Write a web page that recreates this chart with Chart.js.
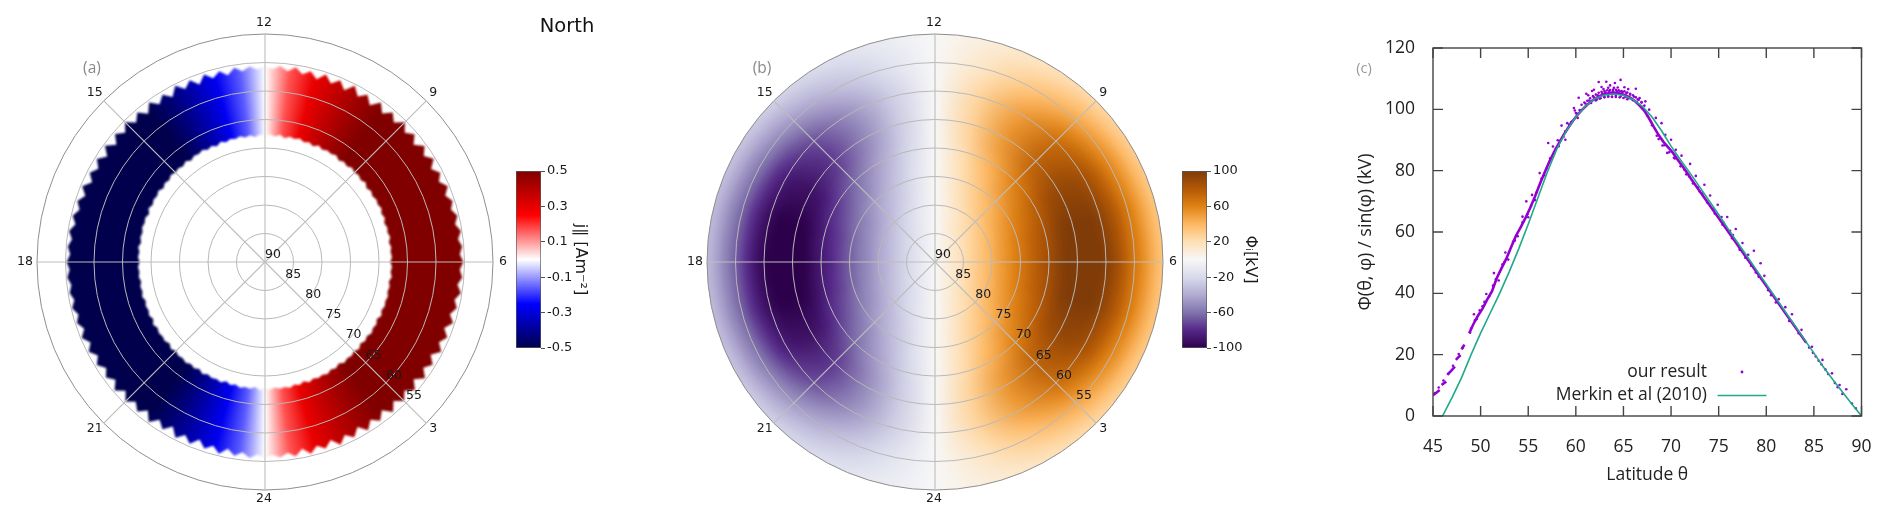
<!DOCTYPE html>
<html><head><meta charset="utf-8">
<style>
html,body{margin:0;padding:0;background:#fff;width:1892px;height:524px;overflow:hidden}
canvas{position:absolute;filter:blur(0.45px)}
#paHeat{filter:blur(1.2px)}
#pbHeat{filter:blur(2.6px);clip-path:circle(228px at 275px 262px)}
</style>
<script src="https://cdn.jsdelivr.net/npm/chart.js@4"></script>
</head><body>
<canvas id="paHeat" width="640" height="524" style="left:0;top:0;width:640px;height:524px"></canvas>
<canvas id="pa" width="640" height="524" style="left:0;top:0;width:640px;height:524px"></canvas>
<canvas id="ba" width="124" height="200" style="left:516px;top:160px;width:124px;height:200px"></canvas>
<canvas id="pbHeat" width="620" height="524" style="left:660px;top:0;width:620px;height:524px"></canvas>
<canvas id="pb" width="620" height="524" style="left:660px;top:0;width:620px;height:524px"></canvas>
<canvas id="bb" width="124" height="200" style="left:1182px;top:160px;width:124px;height:200px"></canvas>
<canvas id="pc" width="552" height="524" style="left:1340px;top:0;width:552px;height:524px"></canvas>
<script>
// ---------- shared polar axis labels ----------
const mltLabels = ['12','9','6','3','24','21','18','15'];
const latitudeTicks = [90,85,80,75,70,65,60,55];

// ---------- panel (a): field aligned current ----------
// band edges in degrees latitude, clockwise from MLT 12, 2.25 degree sectors
const bandOuterLat = [
55.6,56.1,55.5,56.3,55.4,56.4,55.6,56.7,55.4,56.6,55.5,56.8,55.3,56.7,55.6,56.9,55.4,56.8,55.5,56.7,
55.3,56.6,55.5,56.8,55.4,56.5,55.3,56.6,55.5,56.4,55.3,56.3,55.4,56.1,55.3,56.0,55.2,55.9,55.3,55.8,
55.2,55.8,55.3,56.0,55.2,56.1,55.4,56.3,55.3,56.5,55.4,56.4,55.3,56.7,55.5,56.6,55.3,56.8,55.4,56.7,
55.5,56.8,55.4,56.9,55.6,56.7,55.4,56.8,55.5,56.6,55.3,56.7,55.6,56.5,55.4,56.6,55.5,56.3,55.6,56.1,
55.6,56.2,55.5,56.4,55.6,56.6,55.4,56.5,55.6,56.8,55.5,56.6,55.4,56.9,55.6,56.7,55.3,56.8,55.5,56.6,
55.4,56.7,55.3,56.6,55.5,56.5,55.4,56.4,55.3,56.3,55.2,56.2,55.3,56.0,55.2,55.9,55.3,55.8,55.2,55.7,
55.2,55.8,55.3,55.9,55.2,56.1,55.3,56.2,55.4,56.4,55.3,56.6,55.5,56.5,55.4,56.7,55.3,56.8,55.4,56.6,
55.3,56.7,55.5,56.9,55.4,56.7,55.6,56.8,55.3,56.6,55.5,56.8,55.4,56.5,55.6,56.6,55.5,56.3,55.6,56.2];
const bandInnerLat = [
67.9,67.6,67.9,67.5,68.0,67.6,67.8,67.5,67.9,67.6,68.0,67.5,67.9,67.6,67.8,67.5,68.0,67.6,67.9,67.5,
67.8,67.6,67.9,67.5,68.0,67.6,67.9,67.6,67.8,67.5,67.9,67.6,68.0,67.7,67.9,67.6,68.0,67.7,67.9,67.7,
68.0,67.7,67.9,67.6,68.0,67.7,67.9,67.6,67.8,67.6,67.9,67.5,68.0,67.6,67.8,67.5,67.9,67.6,68.0,67.5,
67.9,67.6,67.8,67.5,68.0,67.6,67.9,67.5,67.8,67.6,67.9,67.5,68.0,67.6,67.9,67.5,67.8,67.6,67.9,67.6,
67.9,67.5,68.0,67.6,67.8,67.5,67.9,67.6,68.0,67.5,67.8,67.6,67.9,67.5,68.0,67.6,67.9,67.5,67.8,67.6,
67.9,67.5,68.0,67.6,67.8,67.6,67.9,67.5,68.0,67.6,67.9,67.7,68.0,67.6,67.9,67.7,68.0,67.7,67.9,67.7,
68.0,67.7,67.9,67.6,68.0,67.7,67.9,67.6,67.8,67.6,68.0,67.5,67.9,67.6,67.8,67.5,68.0,67.6,67.9,67.5,
67.8,67.6,67.9,67.5,68.0,67.6,67.8,67.5,67.9,67.6,68.0,67.5,67.9,67.6,67.8,67.5,67.9,67.6,68.0,67.6];
// current density in 7.5 degree sectors, clockwise from MLT 12
const currentBySector = [
0,0.17,0.29,0.37,0.44,0.5,0.56,0.62,0.68,0.72,0.74,0.76,0.78,0.76,0.74,0.72,0.68,0.62,0.56,0.5,0.44,0.37,0.29,0.17,
0,-0.16,-0.27,-0.36,-0.44,-0.5,-0.56,-0.62,-0.68,-0.72,-0.74,-0.76,-0.78,-0.76,-0.74,-0.72,-0.68,-0.62,-0.56,-0.5,-0.44,-0.36,-0.27,-0.16];
const currentColors = ['#00004c','#0000ff','#ffffff','#ff0000','#800000'];
const currentTicks = {min:-0.5,max:0.5,step:0.2};

// ---------- panel (b): potential ----------
// outer edge latitude of each ring, from the pole outwards
const ringEdgeLat = [88.75,87.5,86.25,85,83.75,82.5,81.25,80,78.75,77.5,76.25,75,73.75,72.5,71.25,70,68.75,67.5,66.25,65,63.75,62.5,61.25,60,58.75,57.5,56.25,55,53.75,52.5,51.25,50,48];
// kV per ring, in 1 hour sectors clockwise from MLT 12
const potentialRows = [
[0,1,1,2,2,2,3,2,2,2,1,1,0,-1,-1,-2,-2,-2,-3,-2,-2,-2,-1,-1],
[0,2,4,5,7,7,8,7,7,5,4,2,0,-2,-4,-5,-7,-7,-8,-7,-7,-5,-4,-2],
[0,3,7,9,11,13,13,13,11,9,7,3,0,-3,-7,-9,-11,-13,-13,-13,-11,-9,-7,-3],
[0,5,9,13,16,17,18,17,16,13,9,5,0,-5,-9,-13,-16,-17,-18,-17,-16,-13,-9,-5],
[0,6,12,17,20,23,24,23,20,17,12,6,0,-6,-12,-17,-20,-23,-24,-23,-20,-17,-12,-6],
[0,8,15,21,25,28,29,28,25,21,15,8,0,-8,-15,-21,-25,-28,-29,-28,-25,-21,-15,-8],
[0,9,17,24,30,33,35,33,30,24,17,9,0,-9,-17,-24,-30,-33,-35,-33,-30,-24,-17,-9],
[0,10,20,28,35,39,40,39,35,28,20,10,0,-10,-20,-28,-35,-39,-40,-39,-35,-28,-20,-10],
[0,12,23,32,40,44,46,44,40,32,23,12,0,-12,-23,-32,-40,-44,-46,-44,-40,-32,-23,-12],
[0,13,26,37,45,50,52,50,45,37,26,13,0,-13,-26,-37,-45,-50,-52,-50,-45,-37,-26,-13],
[0,15,29,40,50,55,57,55,50,40,29,15,0,-15,-29,-40,-50,-55,-57,-55,-50,-40,-29,-15],
[0,16,31,44,54,61,63,61,54,44,31,16,0,-16,-31,-44,-54,-61,-63,-61,-54,-44,-31,-16],
[0,18,34,48,59,66,68,66,59,48,34,18,0,-18,-34,-48,-59,-66,-68,-66,-59,-48,-34,-18],
[0,19,37,53,64,72,74,72,64,53,37,19,0,-19,-37,-53,-64,-72,-74,-72,-64,-53,-37,-19],
[0,21,40,56,69,77,80,77,69,56,40,21,0,-21,-40,-56,-69,-77,-80,-77,-69,-56,-40,-21],
[0,22,43,60,74,82,85,82,74,60,43,22,0,-22,-43,-60,-74,-82,-85,-82,-74,-60,-43,-22],
[0,23,45,64,78,87,90,87,78,64,45,23,0,-23,-45,-64,-78,-87,-90,-87,-78,-64,-45,-23],
[0,25,48,68,84,93,96,93,84,68,48,25,0,-25,-48,-68,-84,-93,-96,-93,-84,-68,-48,-25],
[0,26,51,72,88,98,101,98,88,72,51,26,0,-26,-51,-72,-88,-98,-101,-98,-88,-72,-51,-26],
[0,27,52,74,90,101,104,101,90,74,52,27,0,-27,-52,-74,-90,-101,-104,-101,-90,-74,-52,-27],
[0,27,53,75,92,102,105,102,92,75,53,27,0,-27,-53,-75,-92,-102,-105,-102,-92,-75,-53,-27],
[0,27,53,75,91,102,105,102,91,75,53,27,0,-27,-53,-75,-91,-102,-105,-102,-91,-75,-53,-27],
[0,27,52,73,90,100,103,100,90,73,52,27,0,-27,-52,-73,-90,-100,-103,-100,-90,-73,-52,-27],
[0,26,50,71,87,97,100,97,87,71,50,26,0,-26,-50,-71,-87,-97,-100,-97,-87,-71,-50,-26],
[0,25,48,67,83,92,95,92,83,67,48,25,0,-25,-48,-67,-83,-92,-95,-92,-83,-67,-48,-25],
[0,23,44,62,77,85,88,85,77,62,44,23,0,-23,-44,-62,-77,-85,-88,-85,-77,-62,-44,-23],
[0,21,40,56,69,77,79,77,69,56,40,21,0,-21,-40,-56,-69,-77,-79,-77,-69,-56,-40,-21],
[0,18,35,50,61,68,70,68,61,50,35,18,0,-18,-35,-50,-61,-68,-70,-68,-61,-50,-35,-18],
[0,16,31,44,54,60,62,60,54,44,31,16,0,-16,-31,-44,-54,-60,-62,-60,-54,-44,-31,-16],
[0,14,27,38,47,52,54,52,47,38,27,14,0,-14,-27,-38,-47,-52,-54,-52,-47,-38,-27,-14],
[0,12,23,32,39,44,45,44,39,32,23,12,0,-12,-23,-32,-39,-44,-45,-44,-39,-32,-23,-12],
[0,10,19,26,32,36,37,36,32,26,19,10,0,-10,-19,-26,-32,-36,-37,-36,-32,-26,-19,-10],
[0,9,17,24,29,32,33,32,29,24,17,9,0,-9,-17,-24,-29,-32,-33,-32,-29,-24,-17,-9]];
const potentialColors = ['#2d004b','#542788','#8073ac','#b2abd2','#d8daeb','#f7f7f7','#fee0b6','#fdb863','#e08214','#b35806','#7f3b08'];
const potentialTicks = {min:-100,max:100,step:40};

// ---------- panel (c) ----------
const merkinLat = [46,47,48,49,50,51,52,53,54,55,56,57,58,59,60,61,62,63,64,65,66,67,68,69,70,71,72,73,74,75,76,77,78,79,80,81,82,83,84,85,86,87,88,89,90];
const merkinPhi = [0,6,12.5,20,27,33.5,40,47,54.5,62.5,71,79.5,87,93,97.5,101,103.5,104.7,105,104.6,103.2,101,97.5,93,88,83.5,79.2,74.7,70.2,65.7,61,56.5,52,47.5,43,38.5,34,29.5,25,20.5,16,11.8,7.8,3.8,0];
// dense trace of the result; null marks the visible breaks
const traceLat = [45,45.35,45.7,45.8,45.9,46.15,46.4,46.45,46.5,46.9,47.3,47.35,47.4,47.65,47.9,47.95,48.0,48.15,48.3,48.6,48.8,49.25,49.7,50.2,50.7,51.2,51.7,52.2,52.7,53.2,53.7,54.2,54.7,55.2,55.7,56.2,56.7,57.2,57.7,58.2,58.7,59.2,59.7,60.2,60.7,61.2,61.7,62.2,62.7,63.2,63.7,64.2,64.7,65.2,65.7,66.2,66.7,67.2,67.7,68.2,68.7,69.2,69.7,70.2,70.7,71.2,71.7,72.2,72.7,73.2,73.7,74.2,74.7,75.2,75.7,76.2,76.7,77.2,77.7,78.2,78.7,79.2,79.7,80.2,80.7,81.2,81.7,82.2,82.7,83.2,83.7,84.2];
const tracePhi = [6.8,7.6,8.5,null,10.1,10.7,11.2,null,13.4,14.7,16.1,null,18.3,19.1,19.9,null,21.7,22.5,23.3,null,27,30,32.6,35,38,40.7,45,48.2,51.3,55,58.7,61.5,64.5,67.8,71.5,75.5,79.2,82.8,86,88.8,91.6,94,96.3,98.3,100,101.5,102.8,103.8,104.6,105.1,105.4,105.4,105.1,104.6,103.8,102.7,101.2,99.5,97,94.2,91.6,89.4,87.6,85.8,83.6,81.4,79.2,76.9,74.7,72.5,70.3,68.1,65.9,63.7,61.5,59.3,57.1,54.8,52.6,50.4,48.2,46,43.8,41.6,39.4,37.1,34.9,32.7,30.5,28.3,26.1,23.9];
// individual points that stand off the trace
const resultLat = [
62.4,63.2,64.1,64.7,61.9,62.7,63.6,65.1,65.5,66.3,61.1,60.3,66.7,67.3,67.7,59.8,60,59.1,58.5,58.9,58.1,58.9,57.1,57.6,56.2,55.4,54.8,55,54.4,52.6,51.4,50.6,49.3,
60.6,60.9,61.2,61.5,61.8,62.1,62.4,62.7,63,63.3,63.6,63.9,64.2,64.5,64.8,65.1,65.4,65.7,66,66.3,66.6,66.9,67.2,
62.2,62.6,63,63.4,63.8,64.2,64.6,65,65.4,61.7,62.9,63.4,64,64.4,61.3,60.2,60.5,59.5,59.9,
45.2,45.6,46.1,46.6,47.1,47.7,48.1,49,49.4,49.9,50.4,50.9,51.3,51.9,52.3,52.9,53.4,53.9,54.4,55.3,55.9,56.4,56.9,57.3,57.9,58.4,
69,68.4,69.4,70,70.5,71.1,72,72.6,73.5,74.1,74.9,75.9,75.3,76.8,76.2,77.5,78.7,78.1,79.4,79.8,81.3,82,82.7,83.7,84.8,85.9,86.9,87.7,88.4,89,
68.7,69.1,69.6,70.3,71.4,71.9,72.8,73.3,74.5,75.5,76.5,77.8,78.9,80.5,84.5,84.9,85.2,85.5,85.8,86.2,86.5,87.2,87.5,88,89.4,
61,61.4,61.9,62.3,62.8,63.1,63.5,63.9,64.3,64.6,64.9,65.3,65.7,66.1,66.5,66.9,61.6,62.1,62.5,63,63.4,63.8,64.2,64.7,65.2,65.6,66,66.4,
59.3,59.6,60.1,60.4,58.7,58.2,56.7,55.7,54.9,53.6,52.5,51.6,50.2,49.6,48.9,
67.5,68,68.5,69.3,69.8,70.4,71,71.6,72.3,73,73.8,74.6,75.4,76.4,77.2,78.4,79.2,80.2,81,82.4,83.4];
const resultPhi = [
108.9,109,108.6,109.6,106.4,107.3,107.8,107.2,106.6,106.7,105.1,103.8,103.7,102.6,99.9,100.4,98.8,95.5,94.7,92.8,89.9,90.1,89,87.9,79.2,72.1,70,64.8,65,53.3,46.6,39.8,33.2,
101.5,102.2,102.8,103.6,104.3,104.8,105.4,105.7,106,106.2,106.3,106.4,106.4,106.2,106,105.9,105.5,105.1,104.6,103.9,103.1,102.2,101.2,
103.2,103.6,104,104.1,104,104,103.9,103.7,103.3,106,106.6,107,107,107.1,104.6,97.2,99.5,95.8,99.6,
7.5,9.3,11.6,13.8,16.4,20.2,22.2,28.5,31.2,34.5,37.2,39,42.5,44.2,49.5,51,56.8,58.6,63.2,68.5,73,77.4,80.6,84,87.2,89.8,
95.5,97.2,91.7,90.1,86.8,84.9,82.2,78.3,75.4,71.9,68.9,64.9,64.9,61,60.4,56.4,53.9,52.6,49.8,45.7,38.1,35.5,33.2,28.1,22.6,18.3,13.9,10.1,8.7,4.1,
90.3,88.2,85.8,84.2,80.3,78.1,74.6,72.5,67.4,63.2,59,51.6,46.8,39.4,22.3,20.6,19.4,18,16.8,15.2,13.7,10.8,9.4,7.2,2.5,
101.9,102.9,103.9,104.6,105.2,105.6,106,105.9,106,105.8,105.6,105.3,104.8,104.1,103.3,102.4,102.1,102.9,103.5,103.9,104.3,104.2,104.4,104.2,104,103.6,103,102.4,
95,96,98.6,99.8,91,88,78.5,70.4,65.8,57.2,50.2,44.6,35.8,31.6,27.2,
98,94.8,91.4,88.3,86,84,81.4,78.8,75.8,73.2,69.6,66,62.4,58,54.2,49,45.4,41,37,31,27];
const xTickValues = [45,50,55,60,65,70,75,80,85,90];
const yTickValues = [0,20,40,60,80,100,120];

// ---------- helpers ----------
const SANS = '"DejaVu Sans"';
const OPEN = '"Open Sans"';
const SPOKE = 20; // sectors between labelled spokes
const sectorLabels = bandOuterLat.map((_, i) => String(i));
function hex(c){return [1,3,5].map(i=>parseInt(c.substr(i,2),16));}
function colorAt(stops,min,max,v){
  const t=Math.max(0,Math.min(1,(v-min)/(max-min)))*(stops.length-1);
  const i=Math.min(stops.length-2,Math.floor(t)),f=t-i;
  const a=hex(stops[i]),b=hex(stops[i+1]);
  return 'rgb('+a.map((x,k)=>Math.round(x+(b[k]-x)*f)).join(',')+')';
}
function conic(chart,values,stops,ticks){
  const s=chart.scales.r;
  if(!s||s.xCenter===undefined) return 'rgba(0,0,0,0)';
  const g=chart.ctx.createConicGradient(-Math.PI/2,s.xCenter,s.yCenter);
  values.forEach((v,i)=>g.addColorStop(i/values.length,colorAt(stops,ticks.min,ticks.max,v)));
  g.addColorStop(1,colorAt(stops,ticks.min,ticks.max,values[0]));
  return g;
}
function memoGradient(values,stops,ticks){
  let cache=null;
  return c=>{ if(cache) return cache;
    const g=conic(c.chart,values,stops,ticks);
    if(typeof g!=='string') cache=g;
    return g; };
}
const polarLabels = (letter,letterX,extra)=>({
  id:'polarLabels',
  afterDraw(chart){
    const s=chart.scales.r, ctx=chart.ctx;
    ctx.save();
    ctx.fillStyle='#1a1a1a'; ctx.textAlign='center'; ctx.textBaseline='middle';
    ctx.font='12.5px '+SANS;
    const off=[[-1,-11],[7,-8],[10,0],[7,6],[-1,8.5],[-9,6],[-12,0],[-9,-8]];
    mltLabels.forEach((t,i)=>{
      const p=s.getPointPositionForValue(i*SPOKE,50);
      ctx.fillText(t,p.x+off[i][0],p.y+off[i][1]);
    });
    latitudeTicks.forEach(l=>{
      const p=s.getPointPositionForValue(3*SPOKE,l);
      ctx.fillText(String(l),p.x+8,p.y-7.5);
    });
    ctx.fillStyle='#8a8a8a'; ctx.font='15.5px '+OPEN;
    ctx.fillText(letter,letterX,69);
    if(extra){ctx.fillStyle='#111';ctx.font='19.5px '+SANS;ctx.fillText(extra,567,27);}
    ctx.restore();
  }
});
function radarOptions(pad,rMin,showGrid){
  return {
    responsive:false,maintainAspectRatio:false,animation:false,events:[],
    layout:{padding:pad},
    plugins:{legend:{display:false},tooltip:{enabled:false},title:{display:false}},
    elements:{point:{radius:0},line:{borderWidth:0,tension:0}},
    scales:{r:{
      type:'radialLinear',min:rMin,max:90,reverse:true,
      ticks:{display:false,stepSize:5},
      pointLabels:{display:false},
      grid:{display:showGrid,circular:true,z:1,lineWidth:1,color:c=>(c.tick&&c.tick.value===50)?'#8e8e8e':'#b8b8b8'},
      angleLines:{display:showGrid,color:'#bdbdbd',lineWidth:c=>c.index%SPOKE===0?1.1:0}
    }}
  };
}
function colorBar(id,stops,ticks,title,titlePad,dec){
  new Chart(document.getElementById(id),{
    type:'bar',
    data:{labels:[''],datasets:[{data:[[ticks.min,ticks.max]],barPercentage:1,categoryPercentage:1,borderColor:'#5a5a5a',borderWidth:1,borderSkipped:false,
      backgroundColor:c=>{
        const a=c.chart.chartArea; if(!a) return 'rgba(0,0,0,0)';
        const g=c.chart.ctx.createLinearGradient(0,a.bottom,0,a.top);
        stops.forEach((s,i)=>g.addColorStop(i/(stops.length-1),s));
        return g;
      }}]},
    options:{
      responsive:false,maintainAspectRatio:false,animation:false,events:[],
      layout:{padding:{top:11,bottom:12,left:0,right:0}},
      plugins:{legend:{display:false},tooltip:{enabled:false}},
      scales:{
        x:{display:false},
        y:{position:'right',min:ticks.min,max:ticks.max,
          afterFit:s=>{s.width=99;},
          border:{display:false},
          grid:{drawOnChartArea:false,drawTicks:true,tickLength:4,color:'#555'},
          ticks:{stepSize:ticks.step,padding:2,color:'#1a1a1a',font:{family:'DejaVu Sans',size:13},autoSkip:false,maxRotation:0,
            callback:v=>Number(v).toFixed(dec)},
          title:{display:true,text:title,color:'#1a1a1a',font:{family:'DejaVu Sans',size:16},padding:{top:titlePad,bottom:0}}
        }
      }
    }
  });
}

// ---------- (a) ----------
new Chart(document.getElementById('paHeat'),{
  type:'radar',
  data:{labels:sectorLabels,datasets:[
    {label:'band outer',data:bandOuterLat,fill:'+1',pointRadius:0,pointBackgroundColor:'transparent',
     backgroundColor:memoGradient(currentBySector,currentColors,currentTicks)},
    {label:'band inner',data:bandInnerLat,fill:false,pointRadius:0,pointBackgroundColor:'transparent',backgroundColor:'transparent'}
  ]},
  options:radarOptions({left:37,right:147,top:34,bottom:34},50,false)
});
new Chart(document.getElementById('pa'),{
  type:'radar',
  data:{labels:sectorLabels,datasets:[]},
  options:radarOptions({left:37,right:147,top:34,bottom:34},50,true),
  plugins:[polarLabels('(a)',92,'North')]
});
colorBar('ba',currentColors,currentTicks,'j\u2225 [Am\u207B\u00B2]',50,1);

// ---------- (b) ----------
new Chart(document.getElementById('pbHeat'),{
  type:'radar',
  data:{labels:sectorLabels,datasets:ringEdgeLat.map((lat,i)=>({
    label:String(lat),data:sectorLabels.map(()=>lat),fill:'start',pointRadius:0,pointBackgroundColor:'transparent',
    backgroundColor:memoGradient(potentialRows[i],potentialColors,potentialTicks)
  }))},
  options:radarOptions({left:36,right:106,top:23,bottom:23},48,false)
});
new Chart(document.getElementById('pb'),{
  type:'radar',
  data:{labels:sectorLabels,datasets:[]},
  options:radarOptions({left:47,right:117,top:34,bottom:34},50,true),
  plugins:[polarLabels('(b)',102)]
});
colorBar('bb',potentialColors,potentialTicks,'\u03A6\u1D62[kV]',46,0);

// ---------- (c) ----------
const gnuplotFrame={
  id:'gnuplotFrame',
  afterDatasetsDraw(chart){
    const {ctx,chartArea:a,scales:{x,y}}=chart;
    ctx.save();
    ctx.strokeStyle='#444';ctx.lineWidth=1.4;
    ctx.strokeRect(a.left,a.top,a.right-a.left,a.bottom-a.top);
    ctx.beginPath();
    xTickValues.forEach(v=>{const p=x.getPixelForValue(v);ctx.moveTo(p,a.bottom);ctx.lineTo(p,a.bottom-10);ctx.moveTo(p,a.top);ctx.lineTo(p,a.top+10);});
    yTickValues.forEach(v=>{const p=y.getPixelForValue(v);ctx.moveTo(a.left,p);ctx.lineTo(a.left+10,p);ctx.moveTo(a.right,p);ctx.lineTo(a.right-10,p);});
    ctx.stroke();
    // legend inside the plot: text on the left, sample on the right
    ctx.font='17.5px '+OPEN;ctx.fillStyle='#222';ctx.textAlign='right';ctx.textBaseline='middle';
    const tx=a.left+274,lx0=a.left+284.5,lx1=a.left+333.5,y1=a.top+324,y2=a.top+347.5;
    ctx.fillText('our result',tx,y1);
    ctx.fillText('Merkin et al (2010)',tx,y2);
    ctx.fillStyle='#9400d3';ctx.beginPath();ctx.arc(a.left+309,y1,1.4,0,Math.PI*2);ctx.fill();
    ctx.strokeStyle='#1fa988';ctx.lineWidth=1.6;ctx.beginPath();ctx.moveTo(lx0,y2);ctx.lineTo(lx1,y2);ctx.stroke();
    ctx.fillStyle='#999';ctx.font='14.5px '+OPEN;ctx.textAlign='center';ctx.fillText('(c)',24,69);
    ctx.restore();
  }
};
new Chart(document.getElementById('pc'),{
  type:'scatter',
  data:{datasets:[
    {label:'Merkin et al (2010)',data:merkinLat.map((x,i)=>({x,y:merkinPhi[i]})),showLine:true,borderColor:'#1fa988',borderWidth:1.6,pointRadius:0,order:0},
    {label:'our result',data:resultLat.map((x,i)=>({x,y:resultPhi[i]})),pointRadius:1.3,pointBorderWidth:0,pointBackgroundColor:'#9400d3',showLine:false,order:1},
    {label:'our result (dense trace)',data:traceLat.map((x,i)=>({x,y:tracePhi[i]})),showLine:true,spanGaps:false,borderColor:'#9400d3',borderWidth:2.6,pointRadius:0,order:2}
  ]},
  options:{
    responsive:false,maintainAspectRatio:false,animation:false,events:[],
    layout:{padding:{left:0,right:30.5,top:48,bottom:0}},
    plugins:{legend:{display:false},tooltip:{enabled:false}},
    scales:{
      x:{type:'linear',min:45,max:90,afterFit:s=>{s.height=108;},
        afterBuildTicks:s=>{s.ticks=xTickValues.map(value=>({value}));},
        grid:{display:false},border:{display:false},
        ticks:{color:'#222',padding:13,maxRotation:0,autoSkip:false,font:{family:'Open Sans',size:17.5}},
        title:{display:true,text:'Latitude \u03B8',color:'#222',font:{family:'Open Sans',size:17.5},padding:{top:0,bottom:38}}},
      y:{type:'linear',min:0,max:120,afterFit:s=>{s.width=93;},
        afterBuildTicks:s=>{s.ticks=yTickValues.map(value=>({value}));},
        grid:{display:false},border:{display:false},
        ticks:{color:'#222',padding:10,autoSkip:false,font:{family:'Open Sans',size:17.5}},
        title:{display:true,text:'\u03A6(\u03B8, \u03C6) / sin(\u03C6) (kV)',color:'#222',font:{family:'Open Sans',size:18},padding:{top:15,bottom:0}}}
    }
  },
  plugins:[gnuplotFrame]
});
</script>
</body></html>
